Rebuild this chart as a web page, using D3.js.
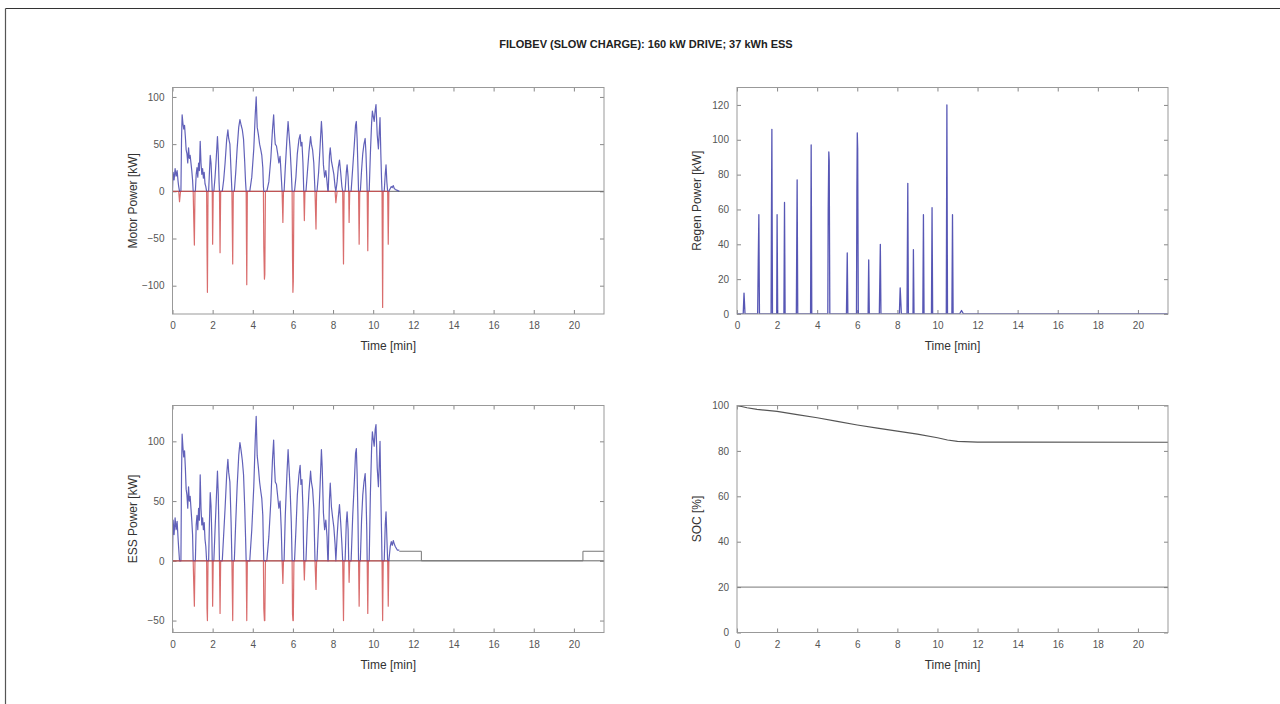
<!DOCTYPE html>
<html><head><meta charset="utf-8">
<script src="https://cdn.jsdelivr.net/npm/d3@7"></script>
<style>body{margin:0;background:#fff;}svg{display:block;font-family:"Liberation Sans",Arial,sans-serif;}</style>
</head><body>
<svg id="c" width="1280" height="704"></svg>
<script>
const title = "FILOBEV (SLOW CHARGE): 160 kW DRIVE; 37 kWh ESS";
const xTicks = [0,2,4,6,8,10,12,14,16,18,20];
const motorTicks = [-100,-50,0,50,100];
const regenTicks = [0,20,40,60,80,100,120];
const essTicks = [-50,0,50,100];
const socTicks = [0,20,40,60,80,100];

// drive-cycle time samples [min]
const driveT = [
 0,0.03,0.08,0.13,0.18,0.23,0.28,0.31,0.35,0.4,
 0.42,0.45,0.48,0.52,0.56,0.6,0.64,0.68,0.72,0.76,0.8,0.84,0.88,0.92,0.96,1.0,1.03,1.06,1.09,1.12,
 1.14,1.18,1.22,1.26,1.3,1.34,1.38,1.42,1.46,1.5,1.54,1.58,1.62,1.66,1.7,1.72,1.74,1.77,
 1.8,1.84,1.88,1.92,1.96,1.98,2.0,2.03,
 2.06,2.12,2.18,2.24,2.28,2.32,2.34,2.37,2.4,
 2.48,2.55,2.62,2.7,2.76,2.8,2.86,2.92,2.96,3.0,3.03,
 3.08,3.15,3.22,3.3,3.36,3.42,3.48,3.54,3.6,3.64,3.67,3.7,3.73,
 3.85,3.95,4.05,4.12,4.17,4.22,4.28,4.34,4.4,4.45,4.5,4.53,4.55,4.58,4.6,4.63,
 4.7,4.8,4.9,4.98,5.04,5.08,5.12,5.18,5.24,5.3,5.36,5.42,5.46,5.5,5.53,
 5.56,5.62,5.7,5.76,5.8,5.86,5.92,5.96,5.98,6.0,6.02,6.05,
 6.08,6.15,6.22,6.3,6.36,6.4,6.45,6.5,6.54,6.57,6.6,
 6.65,6.72,6.8,6.88,6.92,6.98,7.04,7.1,7.15,7.18,
 7.2,7.28,7.36,7.42,7.46,7.52,7.58,7.64,7.7,7.74,
 7.76,7.82,7.86,7.92,7.98,8.04,8.1,8.14,8.2,8.26,8.32,8.38,8.44,8.48,8.52,8.55,
 8.6,8.66,8.7,8.75,8.78,8.8,8.83,
 8.9,8.98,9.06,9.12,9.16,9.2,9.24,9.27,9.3,9.33,
 9.36,9.42,9.48,9.54,9.6,9.64,9.68,9.7,9.73,9.76,
 9.8,9.86,9.92,9.96,10.0,10.05,10.1,10.14,10.2,10.26,10.3,10.34,10.38,10.42,10.44,10.47,10.5,
 10.55,10.6,10.64,10.68,10.72,10.75,10.78,
 10.85,10.9,10.95,11.0,11.05,11.1,11.2,11.3
];
// motor power [kW]
const motorP = [
 0,20,12,24,16,22,10,5,-11,0,
 0,55,81,72,66,70,58,44,40,30,46,35,38,30,22,12,0,-30,-57,0,
 0,18,25,15,30,22,53,30,18,24,14,20,8,5,0,-60,-107,0,
 0,20,38,30,10,0,-56,0,
 0,15,35,58,40,10,0,-65,0,
 0,12,30,55,65,56,50,20,0,-77,0,
 0,20,45,68,76,70,65,55,30,10,0,-99,0,
 0,15,45,80,100,68,60,50,44,38,25,5,-60,-93,-88,0,
 0,10,35,65,81,62,50,48,40,30,37,15,0,-33,0,
 0,25,55,74,62,45,20,0,-70,-107,-95,0,
 0,15,40,55,60,48,52,30,0,-31,0,
 0,20,42,58,50,44,30,0,-40,0,
 0,20,50,74,60,28,15,22,10,0,
 0,38,46,32,25,18,5,-12,10,25,33,20,5,0,-77,0,
 0,20,28,15,0,-33,0,
 0,25,50,70,74,55,25,0,-56,0,
 0,22,40,50,56,40,15,0,-63,0,
 0,40,72,85,80,74,86,92,60,45,62,78,40,10,0,-123,0,
 0,18,28,10,0,-56,0,
 3,5,4,6,3,2,1,0
];
// ESS power [kW]
const essP = [
 0,34,22,36,26,33,18,10,0,0,
 0,72,106,95,87,92,78,60,55,44,62,50,54,44,34,22,0,-20,-38,0,
 0,30,38,26,44,34,72,44,30,36,26,32,18,12,0,-40,-50,0,
 0,32,57,46,20,0,-38,0,
 0,26,50,75,56,20,0,-44,0,
 0,22,44,72,85,74,66,32,0,-50,0,
 0,32,62,88,99,92,84,72,44,20,0,-50,0,
 0,26,62,100,121,88,78,66,58,52,38,12,-40,-50,-50,0,
 0,20,50,84,101,80,66,64,54,44,50,26,0,-19,0,
 0,38,72,93,80,60,32,0,-45,-50,-50,0,
 0,26,55,72,80,64,68,44,0,-16,0,
 0,32,58,75,66,60,44,0,-24,0,
 0,32,66,93,78,40,26,34,20,0,
 0,51,65,45,36,28,14,0,20,36,47,32,14,0,-50,0,
 0,32,41,26,0,-18,0,
 0,38,66,90,94,72,38,0,-38,0,
 0,34,55,66,73,55,26,0,-44,0,
 0,56,94,108,102,96,110,114,78,62,80,100,56,20,0,-50,0,
 0,30,41,20,0,-38,0,
 12,16,13,17,14,12,9,9
];
// regen power [kW]
const regenP = [
 0,0,0,0,0,0,0,0,12,0,
 0,0,0,0,0,0,0,0,0,0,0,0,0,0,0,0,0,30,57,0,
 0,0,0,0,0,0,0,0,0,0,0,0,0,0,0,60,106,0,
 0,0,0,0,0,0,57,0,
 0,0,0,0,0,0,0,64,0,
 0,0,0,0,0,0,0,0,0,77,0,
 0,0,0,0,0,0,0,0,0,0,0,97,0,
 0,0,0,0,0,0,0,0,0,0,0,0,60,93,88,0,
 0,0,0,0,0,0,0,0,0,0,0,0,0,35,0,
 0,0,0,0,0,0,0,0,70,104,95,0,
 0,0,0,0,0,0,0,0,0,31,0,
 0,0,0,0,0,0,0,0,40,0,
 0,0,0,0,0,0,0,0,0,0,
 0,0,0,0,0,0,0,15,0,0,0,0,0,0,75,0,
 0,0,0,0,0,37,0,
 0,0,0,0,0,0,0,0,57,0,
 0,0,0,0,0,0,0,0,61,0,
 0,0,0,0,0,0,0,0,0,0,0,0,0,0,0,120,0,
 0,0,0,0,0,57,0,
 0,0,0,0,0,0,2,0
];
// ESS idle / charging steps after the drive
const essTailT = [11.3,12.4,12.4,20.45,20.45,21.5];
const essTailP = [8,8,0,0,8,8];
// state of charge
const socT = [0,0.5,1,2,3,4,5,6,7,8,9,10,10.5,11,12,21.5];
const socV = [100,99,98.3,97.4,96,94.6,93,91.4,90,88.7,87.4,85.8,84.8,84.2,83.9,83.8];
const socMin = 20;

const svg = d3.select("#c");
svg.append("line").attr("x1",5.5).attr("y1",8.5).attr("x2",1280).attr("y2",8.5).attr("stroke","#333").attr("stroke-width",1.2);
svg.append("line").attr("x1",5.5).attr("y1",8.5).attr("x2",5.5).attr("y2",704).attr("stroke","#555").attr("stroke-width",1.2);

svg.append("text").attr("x",646).attr("y",48).attr("text-anchor","middle")
  .attr("font-size",11).attr("font-weight","bold").attr("fill","#222").text(title);

function panel(x0,y0,w,h,ydom,yticks,ylabel){
  const g = svg.append("g");
  const x = d3.scaleLinear().domain([0,21.5]).range([x0,x0+w]);
  const y = d3.scaleLinear().domain(ydom).range([y0+h,y0]);
  g.append("rect").attr("x",x0).attr("y",y0).attr("width",w).attr("height",h).attr("fill","#fff");
  const tickCol="#888";
  const ax = (axis,tr)=>{const a=g.append("g").attr("transform",tr).call(axis);
    a.select(".domain").remove(); a.selectAll("line").attr("stroke",tickCol);
    a.selectAll("text").attr("fill","#555").attr("font-size",10).attr("font-family","'Liberation Sans',Arial,sans-serif"); return a;};
  ax(d3.axisBottom(x).tickValues(xTicks).tickSize(-4).tickPadding(8).tickFormat(d3.format("d")),`translate(0,${y0+h})`);
  ax(d3.axisTop(x).tickValues(xTicks).tickSize(-4).tickFormat(""),`translate(0,${y0})`);
  ax(d3.axisLeft(y).tickValues(yticks).tickSize(-4).tickPadding(8).tickFormat(d3.format("d")),`translate(${x0},0)`);
  ax(d3.axisRight(y).tickValues(yticks).tickSize(-4).tickFormat(""),`translate(${x0+w},0)`);
  g.append("text").attr("x",x0+w/2).attr("y",y0+h+36).attr("text-anchor","middle")
   .attr("font-size",12).attr("fill","#333").text("Time [min]");
  g.append("text").attr("transform",`translate(${x0-36},${y0+h/2}) rotate(-90)`).attr("text-anchor","middle")
   .attr("font-size",12).attr("fill","#333").text(ylabel);
  const clip = "clip"+Math.round(x0)+"_"+Math.round(y0);
  svg.append("clipPath").attr("id",clip).append("rect").attr("x",x0).attr("y",y0).attr("width",w).attr("height",h);
  const plot = g.append("g").attr("clip-path",`url(#${clip})`);
  return {g:plot,x,y,frame:()=>g.append("rect").attr("x",x0).attr("y",y0).attr("width",w).attr("height",h)
     .attr("fill","none").attr("stroke","#999").attr("stroke-width",1)};
}
const blue="#3a3aa8", red="#d04848";
function drawLine(p,xs,ys,col,sw,op){
  const line=d3.line().x((d,i)=>p.x(xs[i])).y(d=>p.y(d));
  p.g.append("path").attr("d",line(ys)).attr("fill","none").attr("stroke",col).attr("stroke-width",sw).attr("stroke-opacity",op).attr("stroke-linejoin","round");
}

// Motor power
const p1 = panel(172.5,87.5,431.5,226.5,[-130,110],motorTicks,"Motor Power [kW]");
drawLine(p1,[0,21.5],[0,0],"#666",1,1);
drawLine(p1,driveT,motorP.map(v=>Math.max(v,0)),blue,1.2,0.8);
drawLine(p1,driveT.slice(0,driveT.length-8),motorP.slice(0,motorP.length-8).map(v=>Math.min(v,0)),red,1.2,0.8);
p1.frame();

// Regen power
const p2 = panel(737,87.5,431,226.5,[0,130],regenTicks,"Regen Power [kW]");
drawLine(p2,driveT.concat([21.5]),regenP.concat([0]),blue,1.3,0.85);
p2.frame();

// ESS power
const p3 = panel(172.5,405.5,431.5,227,[-60,130],essTicks,"ESS Power [kW]");
drawLine(p3,[0,21.5],[0,0],"#666",1,1);
drawLine(p3,driveT,essP.map(v=>Math.max(v,0)),blue,1.2,0.8);
drawLine(p3,driveT.slice(0,driveT.length-8),essP.slice(0,essP.length-8).map(v=>Math.min(v,0)),red,1.2,0.8);
drawLine(p3,essTailT,essTailP,"#777",1,1);
p3.frame();

// SOC
const p4 = panel(737,405.5,431,227,[0,100],socTicks,"SOC [%]");
drawLine(p4,socT,socV,"#555",1.2,1);
drawLine(p4,[0,21.5],[socMin,socMin],"#777",1,1);
p4.frame();
</script>
</body></html>
